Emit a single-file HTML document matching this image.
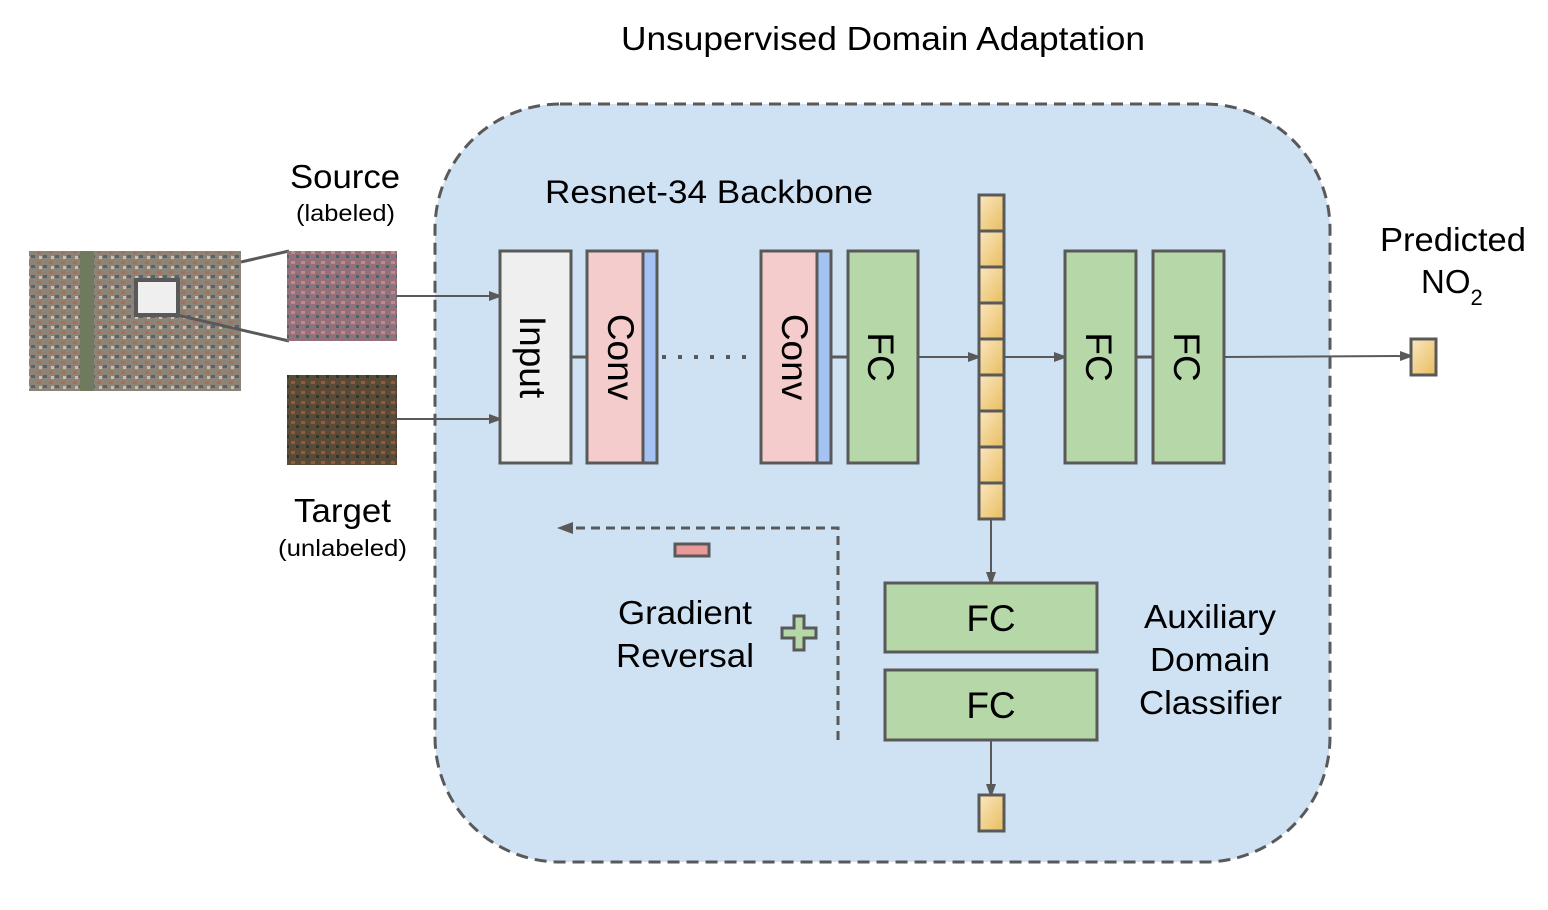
<!DOCTYPE html>
<html><head><meta charset="utf-8"><style>body{margin:0;background:#fff}svg{display:block}text{font-family:"Liberation Sans",sans-serif;fill:#000}</style></head><body>
<svg width="1548" height="910" viewBox="0 0 1548 910" xmlns="http://www.w3.org/2000/svg">
<defs>
<marker id="a" markerWidth="10" markerHeight="10" refX="9" refY="5" orient="auto" markerUnits="userSpaceOnUse"><path d="M0,0 L14,5 L0,10 z" fill="#595959"/></marker>
<marker id="b" markerWidth="16" markerHeight="12" refX="15" refY="6" orient="auto" markerUnits="userSpaceOnUse"><path d="M0,0 L16,6 L0,12 z" fill="#595959"/></marker>
<linearGradient id="g" x1="0" y1="0" x2="1" y2="1"><stop offset="0" stop-color="#fbe6c0"/><stop offset="1" stop-color="#e8bd5e"/></linearGradient>
<pattern id="p1" width="12" height="10" patternUnits="userSpaceOnUse"><rect width="12" height="10" fill="#8c8477"/><rect x="1" y="1" width="4" height="3" fill="#b06a5a"/><rect x="7" y="5" width="4" height="3" fill="#5a6070"/><rect x="3" y="6" width="3" height="3" fill="#c8c0b0"/></pattern>
<pattern id="p2" width="10" height="10" patternUnits="userSpaceOnUse"><rect width="10" height="10" fill="#94707a"/><rect x="1" y="1" width="4" height="3" fill="#c08a8a"/><rect x="6" y="5" width="3" height="3" fill="#3c6a6a"/></pattern>
<pattern id="p3" width="10" height="10" patternUnits="userSpaceOnUse"><rect width="10" height="10" fill="#5a4a38"/><rect x="1" y="1" width="4" height="3" fill="#9a5a3a"/><rect x="6" y="5" width="3" height="3" fill="#2a3a2a"/></pattern>
</defs>
<text x="621" y="50" font-size="33" textLength="524" lengthAdjust="spacingAndGlyphs">Unsupervised Domain Adaptation</text>
<rect x="435" y="104" width="895" height="758" rx="125" fill="#cfe2f3" stroke="#595959" stroke-width="3" stroke-dasharray="12,7"/>
<text x="545" y="203" font-size="32" textLength="328" lengthAdjust="spacingAndGlyphs">Resnet-34 Backbone</text>
<text x="290" y="188" font-size="33" textLength="110" lengthAdjust="spacingAndGlyphs">Source</text>
<text x="296" y="221" font-size="23" textLength="99" lengthAdjust="spacingAndGlyphs">(labeled)</text>
<text x="294" y="522" font-size="33" textLength="97" lengthAdjust="spacingAndGlyphs">Target</text>
<text x="278" y="556" font-size="23" textLength="129" lengthAdjust="spacingAndGlyphs">(unlabeled)</text>
<rect x="29" y="251" width="212" height="140" fill="url(#p1)"/>
<rect x="80" y="251" width="14" height="140" fill="#6f7a5e"/>
<line x1="241" y1="262" x2="289" y2="251" stroke="#595959" stroke-width="3"/>
<line x1="177" y1="315" x2="289" y2="341" stroke="#595959" stroke-width="3"/>
<rect x="136" y="280" width="42" height="35" fill="#efefef" stroke="#595959" stroke-width="4"/>
<rect x="287" y="251" width="110" height="90" fill="url(#p2)"/>
<rect x="287" y="375" width="110" height="90" fill="url(#p3)"/>
<line x1="397" y1="296" x2="498" y2="296" stroke="#595959" stroke-width="2" marker-end="url(#a)"/>
<line x1="397" y1="419" x2="498" y2="419" stroke="#595959" stroke-width="2" marker-end="url(#a)"/>
<g stroke="#595959" stroke-width="3">
<rect x="500" y="251" width="71" height="212" fill="#efefef"/>
<line x1="571" y1="357" x2="587" y2="357"/>
<rect x="587" y="251" width="56" height="212" fill="#f4cccc"/>
<rect x="643" y="251" width="14" height="212" fill="#a4c2f4"/>
<rect x="761" y="251" width="56" height="212" fill="#f4cccc"/>
<rect x="817" y="251" width="14" height="212" fill="#a4c2f4"/>
<line x1="831" y1="357" x2="848" y2="357"/>
<rect x="848" y="251" width="70" height="212" fill="#b6d7a8"/>
<rect x="1065" y="251" width="71" height="212" fill="#b6d7a8"/>
<line x1="1136" y1="357" x2="1153" y2="357"/>
<rect x="1153" y="251" width="71" height="212" fill="#b6d7a8"/>
<rect x="885" y="583" width="212" height="69" fill="#b6d7a8"/>
<rect x="885" y="670" width="212" height="70" fill="#b6d7a8"/>
</g>
<line x1="662" y1="357" x2="758" y2="357" stroke="#595959" stroke-width="4" stroke-dasharray="4,12"/>
<g stroke="#595959" stroke-width="3" fill="url(#g)">
<rect x="979" y="195" width="25" height="36"/><rect x="979" y="231" width="25" height="36"/><rect x="979" y="267" width="25" height="36"/>
<rect x="979" y="303" width="25" height="36"/><rect x="979" y="339" width="25" height="36"/><rect x="979" y="375" width="25" height="36"/>
<rect x="979" y="411" width="25" height="36"/><rect x="979" y="447" width="25" height="36"/><rect x="979" y="483" width="25" height="36"/>
<rect x="1411" y="339" width="25" height="36"/>
<rect x="979" y="795" width="25" height="36"/>
</g>
<g stroke="#595959" stroke-width="2" fill="none">
<line x1="918" y1="357" x2="977" y2="357" marker-end="url(#a)"/>
<line x1="1004" y1="357" x2="1063" y2="357" marker-end="url(#a)"/>
<line x1="1224" y1="357" x2="1409" y2="356" marker-end="url(#a)"/>
<line x1="991" y1="519" x2="991" y2="581" marker-end="url(#a)"/>
<line x1="991" y1="740" x2="991" y2="793" marker-end="url(#a)"/>
</g>
<path d="M838,740 L838,528 L558,528" stroke="#595959" stroke-width="3" fill="none" stroke-dasharray="9,6" marker-end="url(#b)"/>
<rect x="675" y="544" width="34" height="12" fill="#ea9999" stroke="#595959" stroke-width="3"/>
<path d="M794,616 h10 v12 h12 v10 h-12 v12 h-10 v-12 h-12 v-10 h12 z" fill="#b6d7a8" stroke="#595959" stroke-width="3"/>
<g font-size="37">
<text transform="translate(520,357) rotate(90)" text-anchor="middle">Input</text>
<text transform="translate(608,357) rotate(90)" text-anchor="middle">Conv</text>
<text transform="translate(782,357) rotate(90)" text-anchor="middle">Conv</text>
<text transform="translate(868,357) rotate(90)" text-anchor="middle">FC</text>
<text transform="translate(1086,357) rotate(90)" text-anchor="middle">FC</text>
<text transform="translate(1174,357) rotate(90)" text-anchor="middle">FC</text>
<text x="991" y="631" text-anchor="middle">FC</text>
<text x="991" y="718" text-anchor="middle">FC</text>
</g>
<g font-size="33" lengthAdjust="spacingAndGlyphs">
<text x="618" y="624" textLength="134" lengthAdjust="spacingAndGlyphs">Gradient</text>
<text x="616" y="667" textLength="138" lengthAdjust="spacingAndGlyphs">Reversal</text>
<text x="1144" y="628" textLength="132" lengthAdjust="spacingAndGlyphs">Auxiliary</text>
<text x="1150" y="671" textLength="120" lengthAdjust="spacingAndGlyphs">Domain</text>
<text x="1139" y="714" textLength="143" lengthAdjust="spacingAndGlyphs">Classifier</text>
<text x="1380" y="251" textLength="146" lengthAdjust="spacingAndGlyphs">Predicted</text>
<text x="1421" y="293">NO<tspan font-size="22" dy="12">2</tspan></text>
</g>
</svg>
</body></html>
